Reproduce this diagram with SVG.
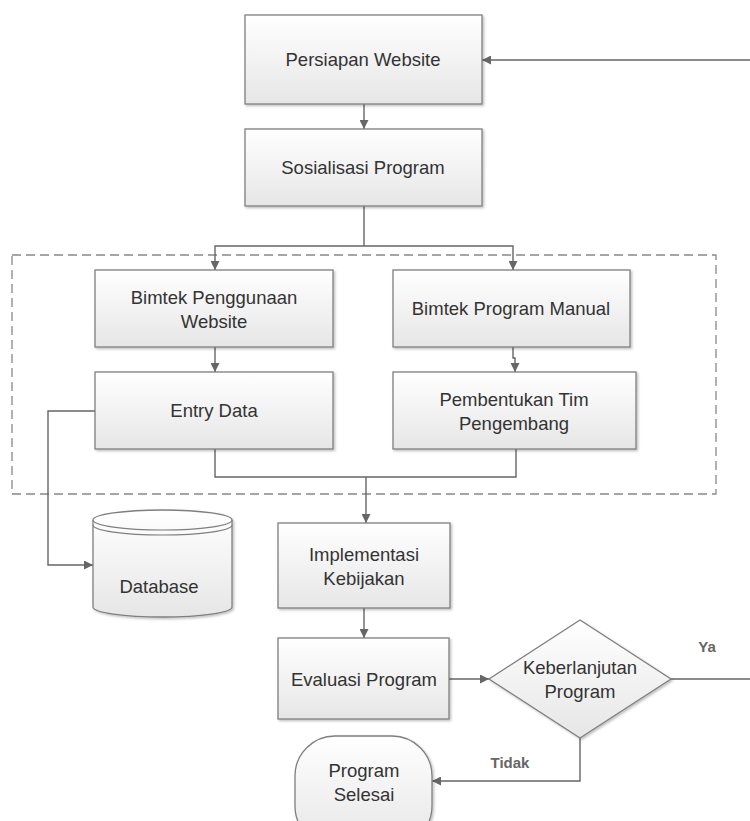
<svg xmlns="http://www.w3.org/2000/svg" width="750" height="821" viewBox="0 0 750 821">
<defs>
<linearGradient id="g" x1="0" y1="0" x2="0" y2="1">
<stop offset="0" stop-color="#ffffff"/>
<stop offset="1" stop-color="#e6e6e6"/>
</linearGradient>
<filter id="sh" x="-5%" y="-5%" width="115%" height="120%">
<feDropShadow dx="1.5" dy="1.5" stdDeviation="1.2" flood-color="#000" flood-opacity="0.25"/>
</filter>
<marker id="ar" viewBox="0 0 10 10" refX="10" refY="5" markerWidth="9" markerHeight="9" markerUnits="userSpaceOnUse" orient="auto">
<path d="M0,0 L10,5 L0,10 z" fill="#666"/>
</marker>
<style>
.box{fill:url(#g);stroke:#7f7f7f;stroke-width:1.3;filter:url(#sh)}
.t{font-family:"Liberation Sans",Arial,sans-serif;font-size:18.5px;fill:#333;text-anchor:middle}
.lbl{font-family:"Liberation Sans",Arial,sans-serif;font-size:15px;font-weight:bold;fill:#666;text-anchor:middle}
.c{fill:none;stroke:#666;stroke-width:1.4}
.ca{fill:none;stroke:#666;stroke-width:1.4;marker-end:url(#ar)}
</style>
</defs>
<rect width="750" height="821" fill="#fff"/>
<rect x="12" y="255" width="704" height="239" fill="none" stroke="#888" stroke-width="1.3" stroke-dasharray="9,5"/>
<g id="connectors">
<path class="ca" d="M364,104 V129"/>
<path class="c" d="M364,206 V246"/>
<path class="ca" d="M364,246 H215 V270"/>
<path class="ca" d="M364,246 H513 V270"/>
<path class="ca" d="M215,347 V372"/>
<path class="ca" d="M513,347 V358 H515 V372"/>
<path class="c" d="M215,449 V477 H516 V449"/>
<path class="ca" d="M366,477 V523"/>
<path class="ca" d="M95,411 H48 V565 H93"/>
<path class="ca" d="M364,608 V638"/>
<path class="ca" d="M449,679 H489"/>
<path class="ca" d="M671,679 H762 V60 H482"/>
<path class="ca" d="M580,738 V781 H432"/>
<text class="lbl" x="707" y="652">Ya</text>
<text class="lbl" x="510" y="768">Tidak</text>
</g>
<g id="persiapan">
<rect class="box" x="245" y="15" width="237" height="89"/>
<text class="t" x="363" y="66">Persiapan Website</text>
</g>
<g id="sosialisasi">
<rect class="box" x="245" y="129" width="237" height="77"/>
<text class="t" x="363" y="174">Sosialisasi Program</text>
</g>
<g id="bimtek-penggunaan">
<rect class="box" x="95" y="270" width="238" height="77"/>
<text class="t" x="214" y="304">Bimtek Penggunaan</text>
<text class="t" x="214" y="328">Website</text>
</g>
<g id="bimtek-manual">
<rect class="box" x="393" y="270" width="237" height="77"/>
<text class="t" x="511" y="315">Bimtek Program Manual</text>
</g>
<g id="entry-data">
<rect class="box" x="95" y="372" width="238" height="77"/>
<text class="t" x="214" y="417">Entry Data</text>
</g>
<g id="pembentukan">
<rect class="box" x="393" y="372" width="243" height="77"/>
<text class="t" x="514" y="406">Pembentukan Tim</text>
<text class="t" x="514" y="430">Pengembang</text>
</g>
<g id="database">
<path class="box" d="M93,520 V607 A69.5,10 0 0 0 232,607 V520 A69.5,10 0 0 0 93,520 z"/>
<path fill="none" stroke="#7f7f7f" stroke-width="1.2" d="M93,520 A69.5,10 0 0 0 232,520"/>
<path fill="none" stroke="#7f7f7f" stroke-width="1.2" d="M93,525 A69.5,10 0 0 0 232,525"/>
<text class="t" x="159" y="593">Database</text>
</g>
<g id="implementasi">
<rect class="box" x="278" y="523" width="172" height="85"/>
<text class="t" x="364" y="561">Implementasi</text>
<text class="t" x="364" y="585">Kebijakan</text>
</g>
<g id="evaluasi">
<rect class="box" x="278" y="638" width="171" height="81"/>
<text class="t" x="364" y="686">Evaluasi Program</text>
</g>
<g id="keberlanjutan">
<path class="box" d="M580,620 L671,679 L580,738 L489,679 z"/>
<text class="t" x="580" y="674">Keberlanjutan</text>
<text class="t" x="580" y="698">Program</text>
</g>
<g id="selesai">
<rect class="box" x="295" y="736" width="137" height="110" rx="40" ry="40"/>
<text class="t" x="364" y="777">Program</text>
<text class="t" x="364" y="801">Selesai</text>
</g>
</svg>
